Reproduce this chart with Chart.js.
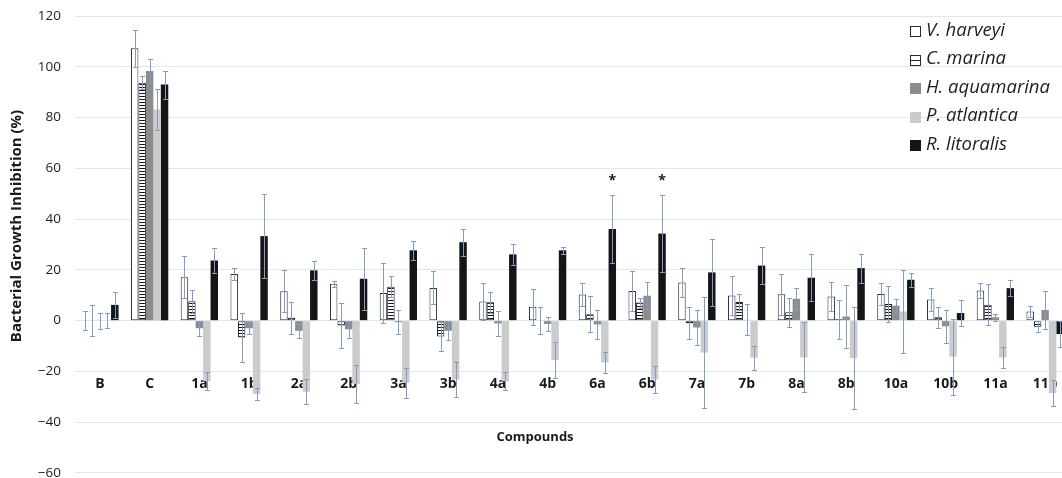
<!DOCTYPE html>
<html><head><meta charset="utf-8">
<script src="https://cdn.jsdelivr.net/npm/chart.js@4.4.1/dist/chart.umd.min.js"></script>
<style>
html,body{margin:0;padding:0;background:#fff;overflow:hidden}
#wrap{width:1062px;height:478px;overflow:hidden;position:relative;background:#fff}
#c{position:absolute;left:0;top:-6px}
</style></head><body>
<div id="wrap"><canvas id="c" width="1070" height="501" style="width:1070px;height:501px"></canvas></div>
<script>
const categories = ['B','C','1a','1b','2a','2b','3a','3b','4a','4b','6a','6b','7a','7b','8a','8b','10a','10b','11a','11b'];
const seriesNames = ['V. harveyi','C. marina','H. aquamarina','P. atlantica','R. litoralis'];

const vHarveyi    = [0, 107.3, 17.1, 18.4, 11.6, 14.5, 10.9, 12.9, 7.5, 5.5, 10.3, 11.7, 15.0, 9.9, 10.4, 9.5, 10.5, 8.3, 11.9, 3.6];
const vHarveyiErr = [3.6, 7.2, 8.3, 2.5, 8.3, 1.3, 11.8, 6.5, 7.4, 7.1, 4.7, 7.8, 5.8, 7.8, 8.0, 5.9, 4.2, 4.4, 2.8, 2.1];

const cMarina     = [0, 93.7, 7.6, -6.6, 1.1, -1.9, 13.4, -6.3, 7.2, 0, 2.5, 7.1, -1.0, 7.3, 3.3, 0.5, 6.6, 1.3, 6.3, -2.4];
const cMarinaErr  = [6.2, 2.6, 4.6, 9.6, 6.4, 8.9, 4.1, 5.8, 4.2, 5.3, 7.1, 2.0, 6.4, 3.3, 5.8, 7.8, 7.1, 4.1, 8.0, 2.2];

const hAquamarina    = [0, 98.4, -3.0, -3.0, -4.0, -3.4, -0.6, -4.0, -1.1, -1.3, -1.5, 9.8, -2.7, 0.3, 8.6, 1.6, 5.9, -2.2, 1.3, 4.2];
const hAquamarinaErr = [3.2, 4.7, 3.0, 2.4, 2.7, 3.4, 4.6, 3.8, 5.0, 2.8, 5.7, 5.4, 6.8, 6.1, 4.1, 12.4, 2.5, 6.5, 1.5, 7.4];

const pAtlantica    = [0, 83.2, -23.8, -28.9, -28.0, -25.0, -24.5, -23.2, -23.9, -15.5, -16.5, -23.2, -12.6, -14.6, -14.5, -14.7, 3.6, -14.2, -14.5, -28.6];
const pAtlanticaErr = [2.9, 8.0, 3.5, 2.5, 5.0, 7.6, 5.8, 6.8, 3.5, 7.2, 4.1, 5.5, 22.0, 4.7, 13.8, 20.0, 16.3, 15.0, 4.3, 5.2];

const rLitoralis    = [6.2, 93.0, 23.7, 33.3, 19.8, 16.5, 27.7, 30.9, 26.1, 27.7, 36.1, 34.3, 19.0, 21.7, 16.9, 20.7, 16.1, 3.0, 12.8, -5.3];
const rLitoralisErr = [5.2, 5.5, 5.1, 16.5, 3.8, 12.3, 3.8, 5.3, 4.1, 1.3, 13.5, 15.3, 13.3, 7.4, 9.3, 5.7, 2.8, 5.3, 3.2, 5.0];
const rLitoralisMarks = ['','','','','','','','','','','*','*','','','','','','','',''];

const yTicks = {min: -60, max: 120, step: 20};

const canvas = document.getElementById('c');
const ctx = canvas.getContext('2d');
const OFFY = 6; // canvas is shifted up by this many pixels

function stripePattern(){
  const p = document.createElement('canvas');
  p.width = 4; p.height = 3;
  const g = p.getContext('2d');
  g.fillStyle = '#ffffff'; g.fillRect(0,0,4,3);
  g.fillStyle = '#151515'; g.fillRect(0,0,4,1);
  return ctx.createPattern(p, 'repeat');
}
const stripes = stripePattern();

const FONT = "'Open Sans', 'DejaVu Sans', sans-serif";
const ERR_COLOR = '#7f9dc8';

const datasets = [
  {label: seriesNames[0], data: vHarveyi, errors: vHarveyiErr, backgroundColor: '#ffffff', borderColor: '#2a2a2a', borderWidth: 1, legendKind: 'open'},
  {label: seriesNames[1], data: cMarina, errors: cMarinaErr, backgroundColor: stripes, borderColor: '#151515', borderWidth: 1, legendKind: 'striped'},
  {label: seriesNames[2], data: hAquamarina, errors: hAquamarinaErr, backgroundColor: '#8c8c8c', borderWidth: 0, legendKind: 'solid'},
  {label: seriesNames[3], data: pAtlantica, errors: pAtlanticaErr, backgroundColor: '#cbcbcb', borderWidth: 0, legendKind: 'solid'},
  {label: seriesNames[4], data: rLitoralis, errors: rLitoralisErr, marks: rLitoralisMarks, backgroundColor: '#151515', borderWidth: 0, legendKind: 'solid'}
];

const overlay = {
  id: 'overlay',
  afterDatasetsDraw(chart){
    const c = chart.ctx, ys = chart.scales.y;
    c.save();
    c.strokeStyle = ERR_COLOR; c.lineWidth = 1;
    chart.data.datasets.forEach((ds, i) => {
      const meta = chart.getDatasetMeta(i);
      meta.data.forEach((el, j) => {
        const v = ds.data[j], e = ds.errors[j];
        if (!e) return;
        const x = Math.round(el.x) + 0.5;
        const y1 = Math.round(ys.getPixelForValue(v + e)) + 0.5;
        const y2 = Math.round(ys.getPixelForValue(v - e)) + 0.5;
        c.beginPath();
        c.moveTo(x, y1); c.lineTo(x, y2);
        c.moveTo(x - 2.5, y1); c.lineTo(x + 2.5, y1);
        c.moveTo(x - 2.5, y2); c.lineTo(x + 2.5, y2);
        c.stroke();
      });
    });
    // significance marks
    c.fillStyle = '#1a1a1a';
    c.font = "bold 14px " + FONT;
    c.textAlign = 'center'; c.textBaseline = 'middle';
    chart.data.datasets.forEach((ds, i) => {
      if (!ds.marks) return;
      const meta = chart.getDatasetMeta(i);
      meta.data.forEach((el, j) => {
        if (!ds.marks[j]) return;
        const top = ys.getPixelForValue(ds.data[j] + ds.errors[j]);
        c.fillText(ds.marks[j], el.x, top - 14);
      });
    });
    c.restore();
  },
  afterDraw(chart){
    const c = chart.ctx;
    c.save();
    c.translate(0, OFFY);
    // axis titles
    c.fillStyle = '#1a1a1a';
    c.textAlign = 'center'; c.textBaseline = 'middle';
    c.font = "bold 13px " + FONT;
    c.fillText('Compounds', 535, 437);
    c.save();
    c.font = "bold 15px " + FONT;
    c.translate(17, 226);
    c.rotate(-Math.PI / 2);
    c.fillText('Bacterial Growth Inhibition (%)', 0, 0);
    c.restore();
    // legend
    chart.data.datasets.forEach((ds, i) => {
      const ry = 31 + i * 28.5;
      const bx = 910.5, by = Math.round(ry - 5) + 0.5, s = 10;
      if (ds.legendKind === 'solid') {
        c.fillStyle = ds.backgroundColor;
        c.fillRect(bx - 0.5, by - 0.5, s + 1, s + 1);
      } else {
        c.fillStyle = '#ffffff';
        c.fillRect(bx, by, s, s);
        c.strokeStyle = '#2a2a2a'; c.lineWidth = 1;
        c.strokeRect(bx, by, s, s);
        if (ds.legendKind === 'striped') {
          c.beginPath(); c.moveTo(bx, by + 5); c.lineTo(bx + s, by + 5); c.stroke();
        }
      }
      c.fillStyle = '#1f1f1f';
      c.font = "italic 18.5px " + FONT;
      c.textAlign = 'left'; c.textBaseline = 'middle';
      c.fillText(ds.label, 926, ry - 0.5);
    });
    c.restore();
  }
};

new Chart(ctx, {
  type: 'bar',
  data: {labels: categories, datasets: datasets},
  options: {
    responsive: false,
    animation: false,
    devicePixelRatio: 1,
    layout: {padding: {left: 0, top: 10, right: 0, bottom: 10}},
    datasets: {bar: {categoryPercentage: 0.75, barPercentage: 1.0, borderSkipped: false}},
    plugins: {legend: {display: false}, tooltip: {enabled: false}},
    scales: {
      x: {
        type: 'category',
        position: {y: -20},
        grid: {display: false, drawTicks: false},
        border: {display: false},
        ticks: {font: {family: FONT, size: 14, weight: 'bold'}, color: '#1a1a1a', padding: 4, maxRotation: 0, autoSkip: false}
      },
      y: {
        min: yTicks.min, max: yTicks.max,
        afterFit: s => { s.width = 75; },
        grid: {color: '#dfe7f1', lineWidth: 1, drawTicks: false},
        border: {display: false},
        ticks: {
          stepSize: yTicks.step, padding: 14, color: '#222222',
          font: {family: FONT, size: 13.5},
          callback: v => v < 0 ? '\u2212' + Math.abs(v) : String(v)
        }
      }
    }
  },
  plugins: [overlay]
});
</script>
</body></html>
